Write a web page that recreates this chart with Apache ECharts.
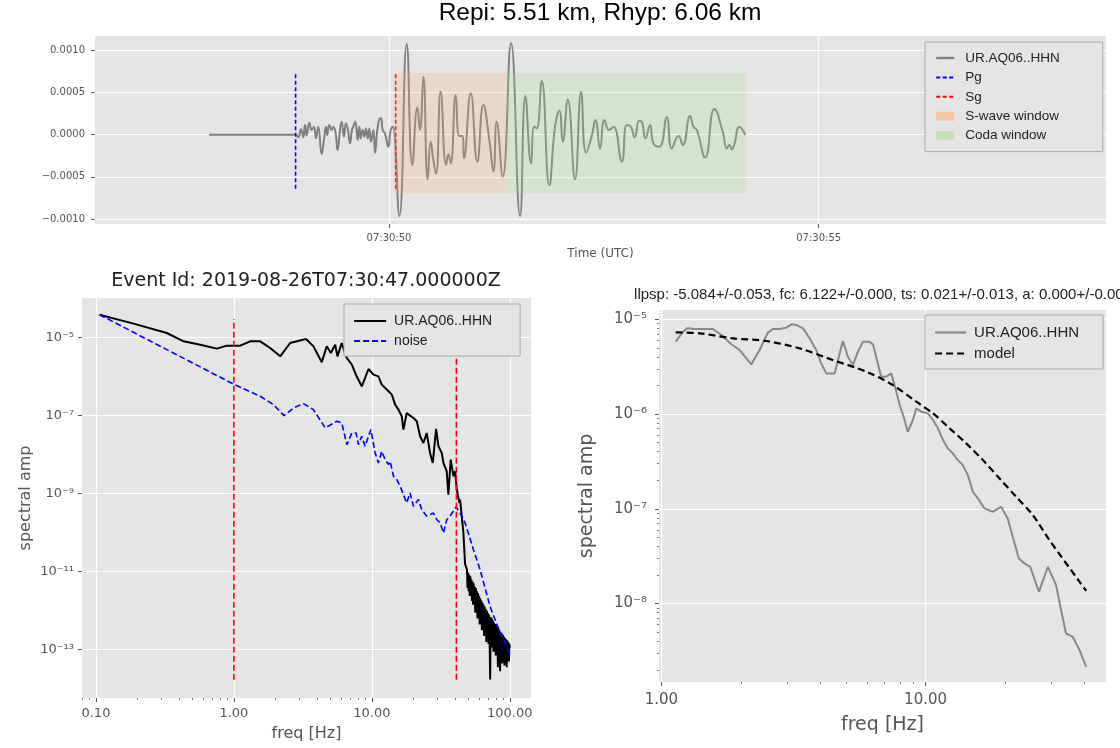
<!DOCTYPE html>
<html>
<head>
<meta charset="utf-8">
<title>UR.AQ06 spectra</title>
<script src="https://cdn.jsdelivr.net/npm/echarts@6/dist/echarts.min.js"></script>
<style>
  html, body { margin: 0; padding: 0; background: #fff; }
  #chart { width: 1120px; height: 748px; }
</style>
</head>
<body>
<div id="chart"></div>
<script>
(function () {
  "use strict";

  // --- waveform: [seconds after 07:30:00, amplitude in 1e-4 units] ---
  const traceXY = [
    [47.905, 0], [48.913, 0], [48.944, -0.31], [48.976, 0.64], [49.003, -0.31], [49.022, 1.15],
    [49.042, -0.08], [49.073, 1.43], [49.100, 0.56], [49.127, 0.95], [49.150, -0.43], [49.177, 0.95],
    [49.216, -2.29], [49.243, -0.63], [49.267, 0.95], [49.282, -0.04], [49.305, 1.15], [49.333, 0.56],
    [49.352, 0.95], [49.379, 0.16], [49.402, -1.82], [49.430, 0.56], [49.449, 1.55], [49.476, -0.24],
    [49.499, 1.35], [49.523, 0.56], [49.546, -1.03], [49.569, 0.56], [49.585, 0.95], [49.608, 1.55],
    [49.635, -0.63], [49.655, 0.95], [49.670, -0.43], [49.693, 0.56], [49.713, -0.24], [49.732, 0.75],
    [49.752, -0.43], [49.771, 0.75], [49.790, -0.83], [49.818, 0.56], [49.837, -2.13], [49.864, 0.56],
    [49.887, 1.82], [49.907, 1.94], [49.926, 0.56], [49.953, 0.16], [49.992, -1.42], [50.019, 0.56],
    [50.043, 0.95], [50.120, -9.64], [50.206, 10.76], [50.272, -3.59], [50.330, 3.25], [50.361, 0.56],
    [50.400, 6.88], [50.450, -5.29], [50.485, -0.83], [50.516, -3.00], [50.547, -4.66], [50.601, 5.10],
    [50.664, -3.59], [50.691, -2.29], [50.718, -3.40], [50.776, 4.71], [50.819, -0.16], [50.858, -0.16],
    [50.873, -2.80], [50.951, 4.91], [51.028, -3.20], [51.098, 3.52], [51.168, -0.63], [51.215, -4.38],
    [51.253, 1.55], [51.323, -4.98], [51.420, 10.84], [51.525, -9.64], [51.587, 4.59], [51.653, -3.40],
    [51.688, 0.95], [51.719, 0.75], [51.777, 6.41], [51.866, -5.97], [51.932, 0.95], [51.983, 2.85],
    [52.022, -0.83], [52.080, 4.19], [52.165, -5.29], [52.235, 5.10], [52.293, -2.13], [52.359, -0.16],
    [52.402, 1.74], [52.456, -1.62], [52.507, 1.74], [52.561, 0.56], [52.612, 0.95], [52.709, -3.20],
    [52.767, 1.15], [52.813, 0.95], [52.860, -0.31], [52.910, 1.67], [52.941, 1.55], [52.984, -0.43],
    [53.038, 1.15], [53.077, -1.03], [53.147, -1.42], [53.232, 2.06], [53.291, -1.62], [53.368, -0.16],
    [53.419, -1.22], [53.504, 2.22], [53.543, 0.95], [53.582, 0.56], [53.679, -2.69], [53.787, 3.05],
    [53.884, 0.36], [53.931, -1.62], [53.962, -1.22], [53.989, -1.74], [54.016, -1.22], [54.078, 0.95],
    [54.144, 0]
  ];
  const pickPg = 48.913;
  const pickSg = 50.078;
  const pickSpan = [-6.41, 7.28];            // 1e-4
  const sWaveWin = [50.05, 51.355];
  const codaWin = [51.355, 54.156];
  const winSpan = [-6.95, 7.32];             // 1e-4
  const ampTicks = [-0.001, -0.0005, 0, 0.0005, 0.001];
  const timeTicks = [50, 55];

  // --- spectra: [log10 freq (Hz), log10 spectral amp] ---
  const sigSpec = [
    [-0.974, -4.419], [-0.727, -4.649], [-0.486, -4.888], [-0.365, -5.102], [-0.244, -5.187], [-0.123, -5.289],
    [-0.051, -5.212], [0.046, -5.212], [0.118, -5.102], [0.191, -5.102], [0.263, -5.272], [0.336, -5.486],
    [0.408, -5.144], [0.456, -5.102], [0.523, -5.042], [0.577, -5.230], [0.637, -5.639], [0.673, -5.230],
    [0.703, -5.400], [0.734, -5.187], [0.751, -5.486], [0.782, -5.144], [0.800, -5.350], [0.819, -5.528],
    [0.855, -5.699], [0.890, -5.998], [0.927, -6.253], [0.951, -6.041], [0.976, -5.810], [1.012, -5.955],
    [1.048, -5.998], [1.072, -6.211], [1.121, -6.381], [1.145, -6.467], [1.169, -6.723], [1.193, -6.851],
    [1.217, -7.021], [1.229, -7.363], [1.253, -6.936], [1.277, -7.004], [1.302, -7.064], [1.326, -7.149],
    [1.350, -7.534], [1.374, -7.704], [1.398, -7.448], [1.422, -7.960], [1.442, -8.215], [1.466, -7.345],
    [1.483, -7.789], [1.507, -7.960], [1.519, -8.215], [1.543, -8.429], [1.555, -9.027], [1.572, -8.130],
    [1.592, -8.557], [1.604, -8.429], [1.616, -8.898], [1.635, -9.240], [1.640, -9.154], [1.664, -10.007],
    [1.676, -10.80], [1.690, -10.95], [1.694, -11.42], [1.698, -11.02], [1.702, -11.50], [1.706, -11.08],
    [1.710, -11.62], [1.714, -11.12], [1.718, -11.55], [1.722, -11.20], [1.726, -11.75], [1.730, -11.25],
    [1.734, -11.85], [1.738, -11.30], [1.742, -11.70], [1.746, -11.38], [1.750, -12.05], [1.754, -11.42],
    [1.758, -11.95], [1.762, -11.50], [1.766, -12.20], [1.770, -11.55], [1.774, -12.10], [1.778, -11.62],
    [1.782, -12.35], [1.786, -11.68], [1.790, -12.25], [1.794, -11.74], [1.798, -12.50], [1.802, -11.80],
    [1.806, -12.40], [1.810, -11.85], [1.814, -12.65], [1.818, -11.90], [1.822, -12.55], [1.826, -11.96],
    [1.830, -12.80], [1.834, -12.00], [1.838, -12.60], [1.842, -12.06], [1.846, -12.85], [1.850, -12.10],
    [1.854, -12.70], [1.858, -13.76], [1.862, -12.16], [1.866, -12.95], [1.870, -12.20], [1.874, -12.75],
    [1.878, -12.25], [1.882, -13.05], [1.886, -12.30], [1.890, -12.85], [1.894, -12.34], [1.898, -13.15],
    [1.902, -12.38], [1.906, -13.00], [1.910, -12.42], [1.914, -13.45], [1.918, -12.46], [1.922, -13.05],
    [1.926, -12.50], [1.930, -13.55], [1.934, -12.55], [1.938, -13.10], [1.942, -12.58], [1.946, -13.35],
    [1.950, -12.62], [1.954, -13.15], [1.958, -12.66], [1.962, -13.40], [1.966, -12.70], [1.970, -13.20],
    [1.974, -12.73], [1.978, -13.45], [1.982, -12.76], [1.986, -13.25], [1.990, -12.80], [1.994, -13.30],
    [1.998, -12.85], [2.000, -12.95]
  ];
  const noiseSpec = [
    [-0.974, -4.419], [-0.486, -5.315], [0.005, -6.211], [0.191, -6.509], [0.287, -6.723], [0.364, -7.004],
    [0.432, -6.808], [0.504, -6.697], [0.577, -6.851], [0.662, -7.320], [0.746, -7.149], [0.782, -7.192],
    [0.819, -7.747], [0.855, -7.448], [0.886, -7.448], [0.903, -7.747], [0.927, -7.534], [0.951, -7.789],
    [0.993, -7.363], [1.024, -7.960], [1.048, -8.215], [1.072, -7.918], [1.096, -8.130], [1.121, -8.258],
    [1.133, -8.173], [1.157, -8.557], [1.181, -8.642], [1.205, -8.813], [1.229, -9.027], [1.253, -9.240],
    [1.277, -8.984], [1.302, -9.325], [1.338, -9.154], [1.362, -9.410], [1.398, -9.581], [1.422, -9.54],
    [1.446, -9.50], [1.471, -9.67], [1.495, -9.75], [1.519, -10.01], [1.543, -9.67], [1.567, -9.58],
    [1.611, -9.34], [1.640, -9.50], [1.676, -9.75], [1.736, -10.43], [1.785, -10.95], [1.857, -11.89],
    [1.930, -12.57], [2.000, -13.10]
  ];
  const bandLimits = [0, 1.613];           // log10 of 1 Hz and ~41 Hz
  const bandSpan = [-13.77, -4.53];
  const specFreqTicks = [-1, 0, 1, 2];
  const specAmpTicks = [-13, -11, -9, -7, -5];

  const fitSpec = [
    [0.054, -5.236], [0.082, -5.131], [0.097, -5.095], [0.126, -5.102], [0.158, -5.102], [0.195, -5.102],
    [0.227, -5.166], [0.265, -5.264], [0.296, -5.324], [0.340, -5.476], [0.372, -5.324], [0.403, -5.141],
    [0.422, -5.102], [0.447, -5.102], [0.473, -5.088], [0.492, -5.053], [0.511, -5.060], [0.536, -5.095],
    [0.561, -5.201], [0.586, -5.324], [0.605, -5.465], [0.624, -5.571], [0.656, -5.571], [0.675, -5.359],
    [0.687, -5.229], [0.706, -5.395], [0.725, -5.483], [0.744, -5.342], [0.763, -5.236], [0.786, -5.236],
    [0.801, -5.264], [0.816, -5.430], [0.832, -5.606], [0.851, -5.606], [0.870, -5.571], [0.886, -5.729],
    [0.902, -5.905], [0.917, -6.028], [0.933, -6.187], [0.952, -6.063], [0.965, -5.940], [0.984, -5.975],
    [1.009, -5.993], [1.028, -6.063], [1.047, -6.151], [1.066, -6.275], [1.084, -6.362], [1.103, -6.415],
    [1.122, -6.486], [1.141, -6.539], [1.160, -6.644], [1.179, -6.820], [1.198, -6.890], [1.223, -6.996],
    [1.255, -7.031], [1.286, -6.979], [1.311, -7.102], [1.330, -7.295], [1.353, -7.524], [1.375, -7.577],
    [1.396, -7.612], [1.429, -7.876], [1.463, -7.612], [1.494, -7.806], [1.513, -8.070], [1.532, -8.316],
    [1.557, -8.351], [1.583, -8.492], [1.608, -8.668]
  ];
  const modelSpec = [
    [0.054, -5.138], [0.145, -5.148], [0.271, -5.201], [0.397, -5.229], [0.523, -5.307], [0.649, -5.430],
    [0.776, -5.553], [0.876, -5.694], [0.965, -5.870], [1.028, -5.993], [1.091, -6.151], [1.154, -6.310],
    [1.217, -6.486], [1.280, -6.680], [1.343, -6.873], [1.406, -7.067], [1.469, -7.330], [1.583, -7.771],
    [1.608, -7.866]
  ];
  const fitFreqTicks = [0, 1];
  const fitAmpTicks = [-8, -7, -6, -5];

  // log minor tick multipliers and the decades they are drawn in
  const minorMult = [2, 3, 4, 5, 6, 7, 8, 9];
  const specMinorDecades = [-2, -1, 0, 1];
  const fitMinorFreqDecades = [0, 1];
  const fitMinorAmpDecades = [-9, -8, -7, -6, -5];

  const GREY_TXT = "#555555";
  const SUP = { "-": "\u207b", "0": "\u2070", "1": "\u00b9", "2": "\u00b2", "3": "\u00b3",
    "4": "\u2074", "5": "\u2075", "6": "\u2076", "7": "\u2077", "8": "\u2078", "9": "\u2079" };

  function pow10(v) {
    return "10" + String(Math.round(v)).split("").map((c) => SUP[c]).join("");
  }
  function freqLabel(v) {
    return Math.pow(10, v).toFixed(2);
  }
  function minorTicks(decades, min, max) {
    const out = [];
    decades.forEach((d) => minorMult.forEach((m) => {
      const v = d + Math.log10(m);
      if (v > min && v < max) out.push(v);
    }));
    return out;
  }

  function valueAxis(gridIndex, min, max, ticks, fmt, fontSize, margin, name) {
    return {
      type: "value", gridIndex, min, max,
      axisLine: { show: false, onZero: false },
      axisTick: { show: true, length: 4, customValues: ticks, lineStyle: { color: GREY_TXT } },
      axisLabel: {
        customValues: ticks, formatter: fmt, color: GREY_TXT, margin,
        fontFamily: "DejaVu Sans", fontSize,
      },
      splitLine: { show: true, lineStyle: { color: "#ffffff", width: 1.2 } },
      name: name ? name.text : "",
      nameLocation: "middle",
      nameGap: name ? name.gap : 0,
      nameTextStyle: name ? { color: GREY_TXT, fontFamily: "DejaVu Sans", fontSize: name.size } : {},
    };
  }
  // tick-only axis sharing a grid, for the short log minor ticks
  function minorAxis(gridIndex, min, max, ticks, position) {
    return {
      type: "value", gridIndex, min, max, position,
      axisLine: { show: false, onZero: false },
      axisTick: { show: true, length: 2, customValues: ticks, lineStyle: { color: GREY_TXT, width: 0.8 } },
      axisLabel: { show: false },
      splitLine: { show: false },
    };
  }

  // legend entries for line series: hide the marker ECharts puts on the line icon
  const noMark = { opacity: 0 };
  const gridBg = { show: true, backgroundColor: "#e5e5e5", borderWidth: 0 };
  const chart = echarts.init(document.getElementById("chart"), null, { renderer: "canvas" });

  const toAmp = (v) => v * 1e-4;
  const winRect = (params, api) => {
    const a = api.coord([api.value(0), api.value(3)]);
    const b = api.coord([api.value(1), api.value(2)]);
    return {
      type: "rect",
      shape: { x: a[0], y: a[1], width: b[0] - a[0], height: b[1] - a[1] },
      style: api.style(),
    };
  };

  const X1 = [-1.101, 2.154], X2 = [-0.009, 1.683], Y2 = [-8.828, -4.902];

  chart.setOption({
    animation: false,
    backgroundColor: "#ffffff",
    title: [
      { text: "Repi: 5.51 km, Rhyp: 6.06 km", left: 600, top: 1, textAlign: "center", padding: 0,
        textStyle: { fontFamily: "Liberation Sans", fontSize: 24.5, fontWeight: "normal", color: "#000" } },
      { text: "Event Id: 2019-08-26T07:30:47.000000Z", left: 306, top: 272, textAlign: "center", padding: 0,
        textStyle: { fontFamily: "DejaVu Sans", fontSize: 19, fontWeight: "normal", color: "#222" } },
      { text: "llpsp: -5.084+/-0.053, fc: 6.122+/-0.000, ts: 0.021+/-0.013, a: 0.000+/-0.000",
        left: 883, top: 287, textAlign: "center", padding: 0,
        textStyle: { fontFamily: "Liberation Sans", fontSize: 15, fontWeight: "normal", color: "#222" } },
    ],
    grid: [
      Object.assign({ left: 95, top: 36, width: 1011, height: 188 }, gridBg),
      Object.assign({ left: 82, top: 298, width: 449, height: 400 }, gridBg),
      Object.assign({ left: 659, top: 310, width: 447, height: 372 }, gridBg),
    ],
    xAxis: [
      valueAxis(0, 46.579, 58.343, timeTicks, (v) => "07:30:" + String(v).padStart(2, "0"), 10, 9,
        { text: "Time (UTC)", gap: 24, size: 12 }),
      valueAxis(1, X1[0], X1[1], specFreqTicks, freqLabel, 13, 9, { text: "freq [Hz]", gap: 28, size: 16 }),
      valueAxis(2, X2[0], X2[1], fitFreqTicks, freqLabel, 15, 11, { text: "freq [Hz]", gap: 34, size: 19 }),
      minorAxis(1, X1[0], X1[1], minorTicks(specMinorDecades, X1[0], X1[1]), "bottom"),
      minorAxis(2, X2[0], X2[1], minorTicks(fitMinorFreqDecades, X2[0], X2[1]), "bottom"),
    ],
    yAxis: [
      valueAxis(0, -1.059e-3, 1.171e-3, ampTicks, (v) => v.toFixed(4).replace("-", "\u2212"), 10, 10, null),
      valueAxis(1, -14.236, -3.992, specAmpTicks, pow10, 13, 8, { text: "spectral amp", gap: 48, size: 16 }),
      valueAxis(2, Y2[0], Y2[1], fitAmpTicks, pow10, 15, 12, { text: "spectral amp", gap: 62, size: 19 }),
      minorAxis(2, Y2[0], Y2[1], minorTicks(fitMinorAmpDecades, Y2[0], Y2[1]), "left"),
    ],
    legend: [
      {
        orient: "vertical", left: 925, top: 42, padding: [9, 43, 9, 10],
        itemGap: 5.4, itemWidth: 18, itemHeight: 9, selectedMode: false,
        backgroundColor: "#e5e5e5", borderColor: "#aaaaaa", borderWidth: 1,
        textStyle: { fontFamily: "Liberation Sans", fontSize: 13.5, lineHeight: 14, color: "#222", padding: [0, 0, 0, 6] },
        data: [
          { name: "UR.AQ06..HHN", itemStyle: noMark, lineStyle: { color: "#808080", width: 2.4, type: "solid" } },
          { name: "Pg", itemStyle: noMark },
          { name: "Sg", itemStyle: noMark },
          { name: "S-wave window", icon: "rect", itemStyle: { color: "#f5c6a5" } },
          { name: "Coda window", icon: "rect", itemStyle: { color: "#c6dfb9" } },
        ],
      },
      {
        orient: "vertical", left: 344, top: 304, padding: [10, 28, 8, 9],
        itemGap: 6, itemWidth: 32, itemHeight: 9, selectedMode: false,
        backgroundColor: "#e5e5e5", borderColor: "#aaaaaa", borderWidth: 1,
        textStyle: { fontFamily: "Liberation Sans", fontSize: 14, lineHeight: 14, color: "#222", padding: [0, 0, 0, 3] },
        data: [
          { name: "UR.AQ06..HHN", itemStyle: noMark, lineStyle: { color: "#000000", width: 2.2, type: "solid" } },
          { name: "noise", itemStyle: noMark },
        ],
      },
      {
        orient: "vertical", left: 925, top: 315, padding: [10, 24, 8, 9],
        itemGap: 6, itemWidth: 31, itemHeight: 9, selectedMode: false,
        backgroundColor: "#e5e5e5", borderColor: "#aaaaaa", borderWidth: 1,
        textStyle: { fontFamily: "Liberation Sans", fontSize: 15, lineHeight: 15, color: "#222", padding: [0, 0, 0, 3] },
        data: [
          { name: "UR.AQ06..HHN", itemStyle: noMark, lineStyle: { color: "#888888", width: 2.2, type: "solid" } },
          { name: "model", itemStyle: noMark },
        ],
      },
    ],
    series: [
      {
        name: "UR.AQ06..HHN", type: "line", xAxisIndex: 0, yAxisIndex: 0, z: 2,
        data: traceXY.map(([t, a]) => [t, toAmp(a)]),
        smooth: 0.5, symbol: "none", lineStyle: { color: "#808080", width: 2 },
      },
      {
        name: "Pg", type: "line", xAxisIndex: 0, yAxisIndex: 0, z: 2, symbol: "none",
        data: pickSpan.map((a) => [pickPg, toAmp(a)]),
        lineStyle: { color: "#0000ff", width: 1.6, type: [4, 2.5] },
      },
      {
        name: "Sg", type: "line", xAxisIndex: 0, yAxisIndex: 0, z: 2, symbol: "none",
        data: pickSpan.map((a) => [pickSg, toAmp(a)]),
        lineStyle: { color: "#ff0000", width: 1.6, type: [4, 2.5] },
      },
      {
        name: "S-wave window", type: "custom", xAxisIndex: 0, yAxisIndex: 0, z: 3,
        renderItem: winRect, encode: { x: [0, 1], y: [2, 3] },
        data: [[sWaveWin[0], sWaveWin[1], toAmp(winSpan[0]), toAmp(winSpan[1])]],
        itemStyle: { color: "rgba(252,170,106,0.22)" },
      },
      {
        name: "Coda window", type: "custom", xAxisIndex: 0, yAxisIndex: 0, z: 3,
        renderItem: winRect, encode: { x: [0, 1], y: [2, 3] },
        data: [[codaWin[0], codaWin[1], toAmp(winSpan[0]), toAmp(winSpan[1])]],
        itemStyle: { color: "rgba(165,215,134,0.22)" },
      },
      {
        name: "UR.AQ06..HHN", type: "line", xAxisIndex: 1, yAxisIndex: 1, z: 2,
        data: sigSpec, symbol: "none", lineStyle: { color: "#000000", width: 2 },
      },
      {
        name: "noise", type: "line", xAxisIndex: 1, yAxisIndex: 1, z: 2,
        data: noiseSpec, symbol: "none", lineStyle: { color: "#0000ff", width: 1.6, type: [6, 3] },
      },
      ...bandLimits.map((f, i) => ({
        name: "band" + i, type: "line", xAxisIndex: 1, yAxisIndex: 1, z: 3, symbol: "none",
        data: bandSpan.map((a) => [f, a]),
        lineStyle: { color: "#ff0000", width: 1.6, type: [6, 3] },
      })),
      {
        name: "UR.AQ06..HHN", type: "line", xAxisIndex: 2, yAxisIndex: 2, z: 2,
        data: fitSpec, symbol: "none", lineStyle: { color: "#888888", width: 2 },
      },
      {
        name: "model", type: "line", xAxisIndex: 2, yAxisIndex: 2, z: 3,
        data: modelSpec, smooth: 0.3, symbol: "none", lineStyle: { color: "#000000", width: 2.2, type: [7, 4] },
      },
    ],
  });
})();
</script>
</body>
</html>
